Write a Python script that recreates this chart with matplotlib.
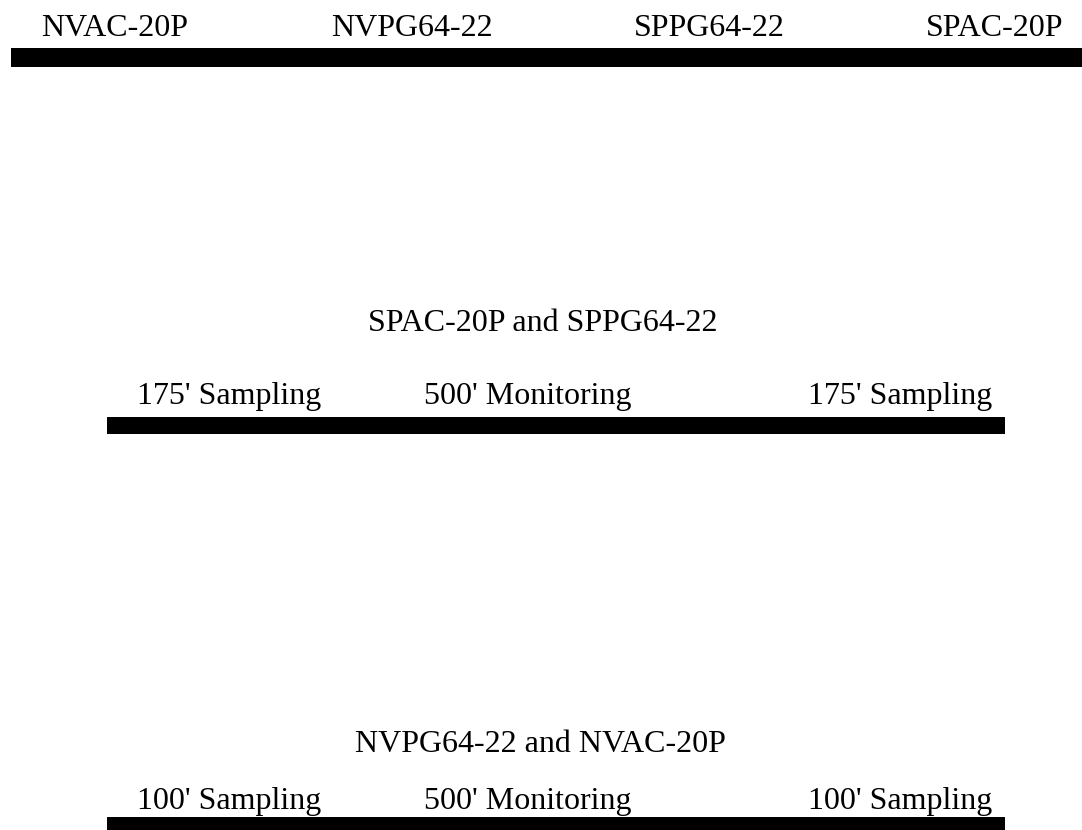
import matplotlib.pyplot as plt

# Section labels
top_labels = ["NVAC-20P", "NVPG64-22", "SPPG64-22", "SPAC-20P"]
mid_title = "SPAC-20P and SPPG64-22"
mid_labels = ["175' Sampling", "500' Monitoring", "175' Sampling"]
bot_title = "NVPG64-22 and NVAC-20P"
bot_labels = ["100' Sampling", "500' Monitoring", "100' Sampling"]

# layout (pixel coordinates of the canvas)
top_x = [115, 412, 709, 995]
sec_x = [229, 528, 900]

plt.rcParams['font.family'] = ['Liberation Serif', 'DejaVu Serif']

fig = plt.figure(figsize=(10.82, 8.3), dpi=100)
ax = fig.add_axes([0, 0, 1, 1])
ax.set_xlim(0, 1082)
ax.set_ylim(830, 0)
ax.axis('off')

fs = 23

# top strip
for x, t in zip(top_x, top_labels):
    ax.text(x, 36, t, fontsize=fs, ha='center', va='baseline')
ax.barh(57.5, 1082 - 11, left=11, height=19, color='black')

# SP section
ax.text(543, 331, mid_title, fontsize=fs, ha='center', va='baseline')
for x, t in zip(sec_x, mid_labels):
    ax.text(x, 404, t, fontsize=fs, ha='center', va='baseline')
ax.barh(425.5, 1005 - 107, left=107, height=17, color='black')

# NV section
ax.text(540, 752, bot_title, fontsize=fs, ha='center', va='baseline')
for x, t in zip(sec_x, bot_labels):
    ax.text(x, 809, t, fontsize=fs, ha='center', va='baseline')
ax.barh(824, 1005 - 107, left=107, height=14, color='black')

fig.savefig("out.png", dpi=100)
